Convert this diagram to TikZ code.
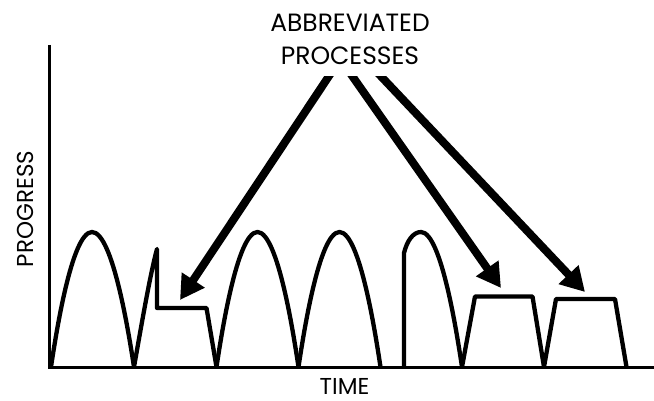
\documentclass[tikz,border=0pt]{standalone}
\usepackage{fontspec}
\setmainfont{Poppins}
\usetikzlibrary{arrows.meta}
\begin{document}
\begin{tikzpicture}[x=1pt,y=-1pt,
  curve/.style={line width=4.3pt,line join=round},
  axis/.style={line width=3pt},
  bigarrow/.style={line width=8pt,-{Triangle[length=24pt,width=26pt]}},
  lbl/.style={align=center,inner sep=0pt}]
\useasboundingbox (0,0) rectangle (654,401);
% axes
\coordinate (ytop) at (49,45);
\coordinate (orig) at (49,367.5);
\coordinate (xend) at (654,367.5);
\draw[axis] (ytop) -- (orig) -- (xend);
% labels
\node[lbl,font=\fontsize{25}{32.5}\selectfont] (abbr) at (350,39.5) {ABBREVIATED\\PROCESSES};
\node[lbl,rotate=90,font=\fontsize{23}{28}\selectfont] (prog) at (25,209) {PROGRESS};
\node[lbl,font=\fontsize{23}{28}\selectfont] (time) at (344.5,386) {TIME};
% humps
\draw[curve] (51,367) parabola bend (92,232) (134,367);
\draw[curve] (134,367) .. controls (142,322) and (150,275) .. (157,249) -- (157,308) -- (206.5,308) -- (216.5,367);
\draw[curve] (216.5,367) parabola bend (257.5,232) (298.5,367);
\draw[curve] (298.5,367) parabola bend (339.5,232) (380.5,367);
\draw[curve] (404,367) -- (404,253) .. controls (407,241) and (413,232) .. (421,232) parabola (462,367);
\draw[curve] (462,367) -- (475,296.5) -- (532.5,296.5) -- (544,367);
\draw[curve] (544,367) -- (556,299) -- (615,299) -- (626.5,367);
% arrows
\coordinate (s1) at (333,70);
\coordinate (t1) at (180,300);
\coordinate (s2) at (348,70);
\coordinate (t2) at (501,288);
\coordinate (s3) at (375,70);
\coordinate (t3) at (585,292);
\begin{scope}
\clip (0,77) rectangle (654,401);
\draw[bigarrow] (s1) -- (t1);
\draw[bigarrow] (s2) -- (t2);
\draw[bigarrow] (s3) -- (t3);
\end{scope}
\end{tikzpicture}
\end{document}
